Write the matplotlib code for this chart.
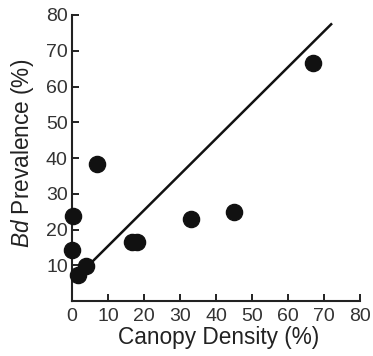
import matplotlib
matplotlib.use("Agg")
import matplotlib.pyplot as plt

# canopy density (%) vs Bd prevalence (%)
canopy = [7.0, 0.2, 0.0, 3.9, 1.6, 16.6, 18.1, 33.1, 45.0, 66.9]
prevalence = [38.3, 23.8, 14.3, 9.8, 7.4, 16.6, 16.6, 22.9, 24.8, 66.6]

# regression line end points
fit_x = [3.0, 72.0]
fit_y = [8.4, 77.4]

xticks = [0, 10, 20, 30, 40, 50, 60, 70, 80]
yticks = [10, 20, 30, 40, 50, 60, 70, 80]

plt.rcParams['font.family'] = ['Liberation Sans', 'DejaVu Sans']
plt.rcParams['mathtext.fontset'] = 'custom'
plt.rcParams['mathtext.it'] = 'Liberation Sans:italic'
plt.rcParams['mathtext.rm'] = 'Liberation Sans'

fig = plt.figure(figsize=(3.73, 3.56), dpi=100)
ax = fig.add_axes([0.193, 0.154, 0.772, 0.804])

ax.plot(fit_x, fit_y, color='#111111', lw=1.8, zorder=2)
ax.scatter(canopy, prevalence, s=135, color='#111111', zorder=3, clip_on=False)

ax.set_xlim(0, 80)
ax.set_ylim(0, 80)
ax.set_xticks(xticks)
ax.set_yticks(yticks)

for side in ['top', 'right']:
    ax.spines[side].set_visible(False)
for side in ['left', 'bottom']:
    ax.spines[side].set_linewidth(1.5)
    ax.spines[side].set_color('#222222')

ax.tick_params(direction='in', length=5, width=1.4, color='#222222',
               labelsize=14, labelcolor='#333333', pad=3)
ax.tick_params(axis='x', pad=5)

ax.set_xlabel('Canopy Density (%)', fontsize=16.3, color='#222222')
ax.set_ylabel(r'$\it{Bd}$ Prevalence (%)', fontsize=16.3, color='#222222')
ax.xaxis.set_label_coords(0.51, -0.085)
ax.yaxis.set_label_coords(-0.126, 0.515)

plt.savefig("out.png", dpi=100)
plt.close()
